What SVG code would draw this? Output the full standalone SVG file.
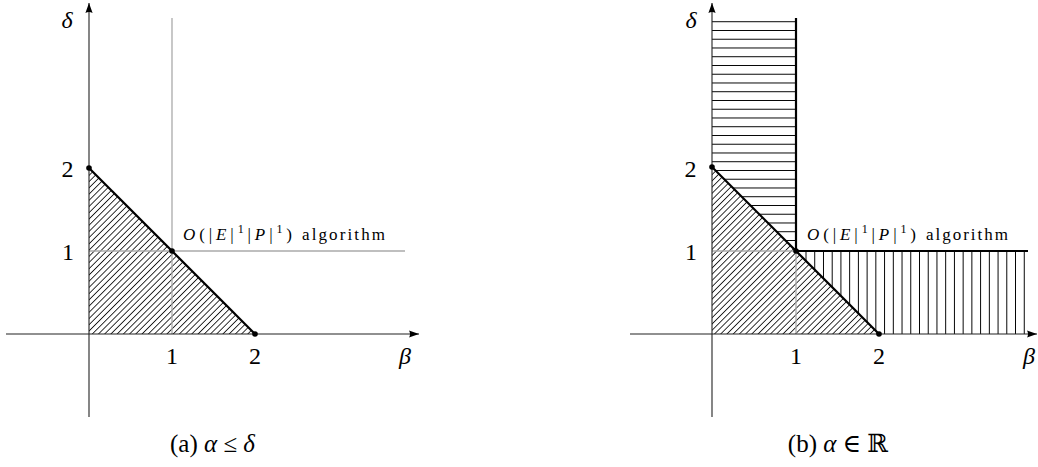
<svg xmlns="http://www.w3.org/2000/svg" width="1038" height="467" viewBox="0 0 1038 467">
<style>
.axis{stroke:#222;stroke-width:1.1;fill:none}
.grid{stroke:#aaa;stroke-width:1.3;fill:none}
.thick{stroke:#000;stroke-width:2.2;fill:none}
.dot{fill:#000}
.num{font-family:"Liberation Serif","DejaVu Serif",serif;font-size:24px;fill:#000}
.var{font-family:"Liberation Serif","DejaVu Serif",serif;font-size:24px;font-style:italic;fill:#000}
.lab{font-family:"Liberation Serif","DejaVu Serif",serif;font-size:17px;fill:#000}
.sup{font-size:12px}
.cap{font-family:"Liberation Serif","DejaVu Serif",serif;font-size:25px;fill:#000}
</style>
<defs>
<marker id="arr" markerUnits="userSpaceOnUse" markerWidth="12" markerHeight="10" refX="0" refY="0" viewBox="-11 -5 12 10" orient="auto">
<path d="M0,0 L-10,-3.6 Q-8,0 -10,3.6 Z" fill="#000"/>
</marker>
<pattern id="diag" patternUnits="userSpaceOnUse" width="4.4" height="4.4" patternTransform="rotate(-45)">
<line x1="-1" y1="2.2" x2="5.4" y2="2.2" stroke="#000" stroke-width="0.8"/>
</pattern>
<pattern id="hh" patternUnits="userSpaceOnUse" x="0" y="17.35" width="20" height="8.75">
<line x1="-1" y1="4.375" x2="21" y2="4.375" stroke="#000" stroke-width="1"/>
</pattern>
<pattern id="vv" patternUnits="userSpaceOnUse" x="801.635" y="0" width="8.73" height="20">
<line x1="4.365" y1="-1" x2="4.365" y2="21" stroke="#000" stroke-width="1"/>
</pattern>
</defs>

<!-- Left plot (a) -->
<g id="plot-a">
<g id="a-regions">
<polygon points="89,168 255,334 89,334" fill="url(#diag)"/>
</g>
<g id="a-grid">
<line class="grid" x1="172" y1="18" x2="172" y2="334"/>
<line class="grid" x1="89" y1="251" x2="405" y2="251"/>
</g>
<g id="a-axes">
<line class="axis" x1="6" y1="334" x2="419" y2="334" marker-end="url(#arr)"/>
<line class="axis" x1="89" y1="417" x2="89" y2="3" marker-end="url(#arr)"/>
</g>
<g id="a-connectors">
<line class="thick" x1="89" y1="168" x2="255" y2="334"/>
</g>
<g id="a-points">
<circle class="dot" cx="89" cy="168" r="2.8"/>
<circle class="dot" cx="172" cy="251" r="2.8"/>
<circle class="dot" cx="255" cy="334" r="2.8"/>
</g>
<g id="a-labels">
<text class="var" x="67" y="28" text-anchor="middle">δ</text>
<text class="num" x="67.5" y="177" text-anchor="middle">2</text>
<text class="num" x="68" y="260" text-anchor="middle">1</text>
<text class="num" x="172" y="364" text-anchor="middle">1</text>
<text class="num" x="255" y="364" text-anchor="middle">2</text>
<text class="var" x="405" y="364" text-anchor="middle">β</text>
<text class="lab" x="183" y="240" textLength="109" lengthAdjust="spacing"><tspan font-style="italic">O</tspan>(|<tspan font-style="italic">E</tspan>|<tspan class="sup" dy="-7">1</tspan><tspan dy="7">|</tspan><tspan font-style="italic">P</tspan>|<tspan class="sup" dy="-7">1</tspan><tspan dy="7">)</tspan></text>
<text class="lab" x="302" y="240" textLength="83" lengthAdjust="spacing">algorithm</text>
<text class="cap" x="212.5" y="452" text-anchor="middle">(a) <tspan font-style="italic">α</tspan> ≤ <tspan font-style="italic">δ</tspan></text>
</g>
</g>

<!-- Right plot (b) -->
<g id="plot-b">
<g id="b-regions">
<polygon points="712,18 796,18 796,251 712,167" fill="url(#hh)"/>
<polygon points="796,251 1028,251 1028,334 879,334" fill="url(#vv)"/>
<polygon points="712,167 879,334 712,334" fill="url(#diag)"/>
</g>
<g id="b-grid">
<line class="grid" x1="712" y1="251" x2="796" y2="251"/>
<line class="grid" x1="796" y1="251" x2="796" y2="334"/>
</g>
<g id="b-axes">
<line class="axis" x1="630" y1="334" x2="1037" y2="334" marker-end="url(#arr)"/>
<line class="axis" x1="712" y1="417" x2="712" y2="3" marker-end="url(#arr)"/>
</g>
<g id="b-connectors">
<line class="thick" x1="712" y1="167" x2="879" y2="334"/>
<line class="thick" x1="796" y1="18" x2="796" y2="251"/>
<line class="thick" x1="796" y1="251" x2="1028" y2="251"/>
</g>
<g id="b-points">
<circle class="dot" cx="712" cy="167" r="2.8"/>
<circle class="dot" cx="796" cy="251" r="2.8"/>
<circle class="dot" cx="879" cy="334" r="2.8"/>
</g>
<g id="b-labels">
<text class="var" x="691" y="28" text-anchor="middle">δ</text>
<text class="num" x="690.5" y="177" text-anchor="middle">2</text>
<text class="num" x="691" y="260" text-anchor="middle">1</text>
<text class="num" x="796" y="364" text-anchor="middle">1</text>
<text class="num" x="879" y="364" text-anchor="middle">2</text>
<text class="var" x="1029" y="364" text-anchor="middle">β</text>
<text class="lab" x="807" y="240" textLength="109" lengthAdjust="spacing"><tspan font-style="italic">O</tspan>(|<tspan font-style="italic">E</tspan>|<tspan class="sup" dy="-7">1</tspan><tspan dy="7">|</tspan><tspan font-style="italic">P</tspan>|<tspan class="sup" dy="-7">1</tspan><tspan dy="7">)</tspan></text>
<text class="lab" x="926" y="240" textLength="82" lengthAdjust="spacing">algorithm</text>
<text class="cap" x="838" y="452" text-anchor="middle">(b) <tspan font-style="italic">α</tspan> ∈ ℝ</text>
</g>
</g>
</svg>
